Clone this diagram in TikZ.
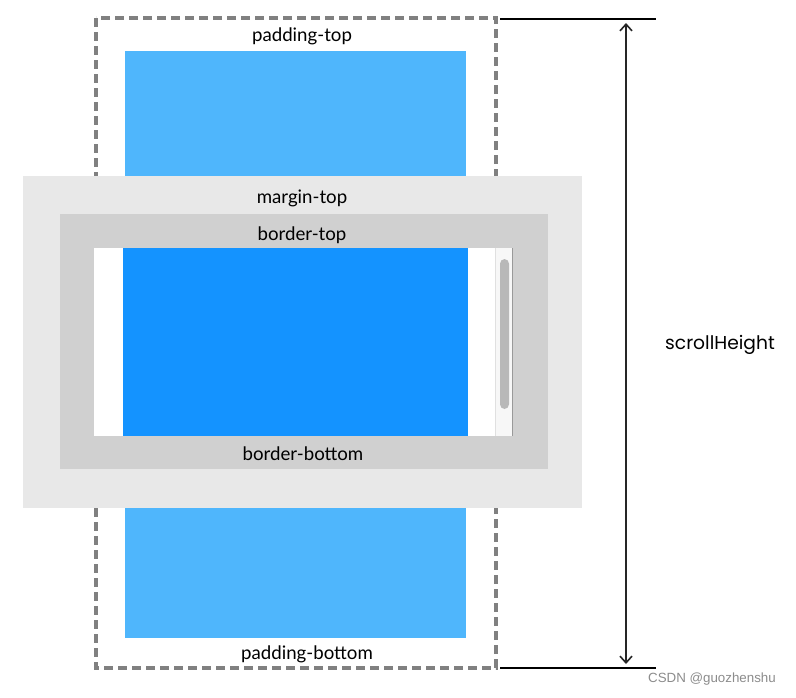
\documentclass[tikz,border=0pt]{standalone}
\usepackage{fontspec}
\setmainfont{Lato}
\newfontfamily\handfont{Poppins}
\newfontfamily\wmfont{Liberation Sans}
\usetikzlibrary{arrows.meta}
\definecolor{padblue}{HTML}{4FB6FC}
\definecolor{contblue}{HTML}{1493FF}
\definecolor{marginc}{HTML}{E8E8E8}
\definecolor{borderc}{HTML}{D0D0D0}
\definecolor{dashc}{HTML}{808080}
\definecolor{thumbc}{HTML}{B8B8B8}
\tikzset{
  lbl/.style={font=\fontsize{14}{16}\selectfont, text=black, inner sep=0pt},
}
\begin{document}
\begin{tikzpicture}[x=0.75pt,y=-0.75pt]
\useasboundingbox[fill=white] (0,0) rectangle (796,697);
% padding blue areas
\fill[padblue] (125,51) rectangle (466,176);
\fill[padblue] (125,508) rectangle (466,638);
% dashed outline
\draw[dashc, line width=2.6pt, dash pattern=on 6.5pt off 4pt] (96,18) rectangle (496,668);
% margin
\fill[marginc] (23,176) rectangle (582,508);
% border
\fill[borderc] (60,214) rectangle (548,469);
% content
\fill[white] (94,248) rectangle (513,436);
\fill[contblue] (123,248) rectangle (468,436);
% scrollbar
\fill[black!3] (495,248) rectangle (512,436);
\draw[black!12, line width=0.5pt] (495,248) -- (495,436);
\draw[black!40, line width=0.7pt] (512.5,248) -- (512.5,436);
\fill[thumbc, rounded corners=3.5pt] (500,259) rectangle (509,409);
% labels
\node[lbl] (pt) at (302,36) {padding-top};
\node[lbl] (mt) at (302,198) {margin-top};
\node[lbl] (bt) at (302,235) {border-top};
\node[lbl] (bb) at (303,454) {border-bottom};
\node[lbl] (pb) at (307,654) {padding-bottom};
% scrollHeight measure
\coordinate (tl) at (500,19);
\coordinate (tr) at (656,19);
\coordinate (bl) at (500,668);
\coordinate (br) at (656,668);
\draw[black, line width=1.6pt] (tl) -- (tr);
\draw[black, line width=1.6pt] (bl) -- (br);
\coordinate (at) at (626,23);
\coordinate (ab) at (626,664);
\draw[black!85, line width=1.1pt, {Straight Barb[length=5pt,width=9pt,line width=1.2pt]}-{Straight Barb[length=5pt,width=9pt,line width=1.2pt]}] (at) -- (ab);
\node[font=\handfont\fontsize{14}{16}\selectfont, inner sep=0pt] (sh) at (720,345) {scrollHeight};
% watermark
\node[font=\wmfont\fontsize{10}{12}\selectfont, text=black!45, inner sep=0pt] (wm) at (712,679) {CSDN @guozhenshu};
\end{tikzpicture}
\end{document}
